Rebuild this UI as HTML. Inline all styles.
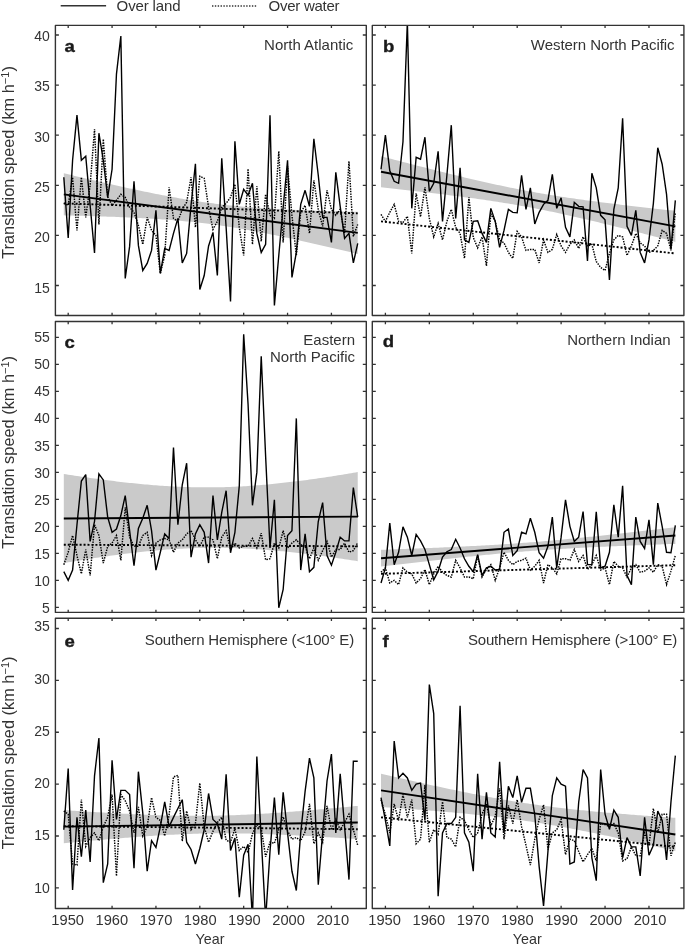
<!DOCTYPE html>
<html><head><meta charset="utf-8"><style>
html,body{margin:0;padding:0;background:#fff;}
body{width:685px;height:945px;position:relative;overflow:hidden;font-family:"Liberation Sans", sans-serif;}
</style></head><body>
<svg width="685" height="945" viewBox="0 0 685 945" style="position:absolute;left:0;top:0;will-change:transform">
<defs>
<clipPath id="clipa"><rect x="55.40" y="25.40" width="310.90" height="290.10"/></clipPath>
<clipPath id="clipb"><rect x="372.30" y="25.40" width="311.60" height="290.10"/></clipPath>
<clipPath id="clipc"><rect x="55.40" y="321.50" width="310.90" height="290.90"/></clipPath>
<clipPath id="clipd"><rect x="372.30" y="321.50" width="311.60" height="290.90"/></clipPath>
<clipPath id="clipe"><rect x="55.40" y="618.30" width="310.90" height="290.20"/></clipPath>
<clipPath id="clipf"><rect x="372.30" y="618.30" width="311.60" height="290.20"/></clipPath>
</defs>
<g clip-path="url(#clipa)">
<path fill="#cacaca" d="M63.81,173.28 L66.01,173.80 L68.20,174.32 L70.39,174.84 L72.59,175.36 L74.78,175.88 L76.97,176.40 L79.17,176.92 L81.36,177.43 L83.55,177.95 L85.75,178.46 L87.94,178.97 L90.14,179.48 L92.33,179.99 L94.52,180.50 L96.72,181.01 L98.91,181.51 L101.10,182.02 L103.30,182.52 L105.49,183.02 L107.68,183.52 L109.88,184.02 L112.07,184.51 L114.26,185.00 L116.46,185.50 L118.65,185.99 L120.84,186.47 L123.04,186.96 L125.23,187.44 L127.42,187.92 L129.62,188.40 L131.81,188.87 L134.00,189.34 L136.20,189.81 L138.39,190.28 L140.59,190.74 L142.78,191.20 L144.97,191.66 L147.17,192.11 L149.36,192.56 L151.55,193.00 L153.75,193.44 L155.94,193.88 L158.13,194.32 L160.33,194.74 L162.52,195.17 L164.71,195.59 L166.91,196.00 L169.10,196.42 L171.29,196.82 L173.49,197.22 L175.68,197.61 L177.88,198.00 L180.07,198.39 L182.26,198.76 L184.46,199.14 L186.65,199.50 L188.84,199.86 L191.04,200.21 L193.23,200.56 L195.42,200.90 L197.62,201.23 L199.81,201.56 L202.00,201.88 L204.20,202.19 L206.39,202.50 L208.58,202.79 L210.78,203.09 L212.97,203.37 L215.16,203.65 L217.36,203.92 L219.55,204.18 L221.75,204.44 L223.94,204.69 L226.13,204.93 L228.33,205.17 L230.52,205.40 L232.71,205.62 L234.91,205.84 L237.10,206.05 L239.29,206.25 L241.49,206.45 L243.68,206.64 L245.87,206.83 L248.07,207.01 L250.26,207.18 L252.45,207.35 L254.65,207.52 L256.84,207.68 L259.03,207.84 L261.23,207.99 L263.42,208.13 L265.62,208.28 L267.81,208.41 L270.00,208.55 L272.20,208.68 L274.39,208.81 L276.58,208.93 L278.78,209.05 L280.97,209.16 L283.16,209.28 L285.36,209.39 L287.55,209.49 L289.74,209.60 L291.94,209.70 L294.13,209.80 L296.32,209.89 L298.52,209.99 L300.71,210.08 L302.90,210.17 L305.10,210.25 L307.29,210.34 L309.48,210.42 L311.68,210.50 L313.87,210.58 L316.07,210.66 L318.26,210.73 L320.45,210.81 L322.65,210.88 L324.84,210.95 L327.03,211.02 L329.23,211.09 L331.42,211.15 L333.61,211.22 L335.81,211.28 L338.00,211.34 L340.19,211.40 L342.39,211.46 L344.58,211.52 L346.77,211.58 L348.97,211.64 L351.16,211.69 L353.35,211.75 L355.55,211.80 L357.74,211.85 L357.74,253.94 L355.55,253.41 L353.35,252.89 L351.16,252.37 L348.97,251.85 L346.77,251.33 L344.58,250.81 L342.39,250.30 L340.19,249.78 L338.00,249.27 L335.81,248.75 L333.61,248.24 L331.42,247.73 L329.23,247.22 L327.03,246.71 L324.84,246.20 L322.65,245.70 L320.45,245.19 L318.26,244.69 L316.07,244.19 L313.87,243.69 L311.68,243.20 L309.48,242.70 L307.29,242.21 L305.10,241.72 L302.90,241.23 L300.71,240.74 L298.52,240.26 L296.32,239.77 L294.13,239.29 L291.94,238.82 L289.74,238.34 L287.55,237.87 L285.36,237.40 L283.16,236.94 L280.97,236.47 L278.78,236.01 L276.58,235.56 L274.39,235.10 L272.20,234.66 L270.00,234.21 L267.81,233.77 L265.62,233.33 L263.42,232.90 L261.23,232.47 L259.03,232.04 L256.84,231.62 L254.65,231.21 L252.45,230.80 L250.26,230.39 L248.07,229.99 L245.87,229.60 L243.68,229.21 L241.49,228.83 L239.29,228.45 L237.10,228.08 L234.91,227.71 L232.71,227.35 L230.52,227.00 L228.33,226.65 L226.13,226.31 L223.94,225.98 L221.75,225.65 L219.55,225.34 L217.36,225.02 L215.16,224.72 L212.97,224.42 L210.78,224.13 L208.58,223.84 L206.39,223.57 L204.20,223.30 L202.00,223.03 L199.81,222.78 L197.62,222.53 L195.42,222.28 L193.23,222.05 L191.04,221.82 L188.84,221.59 L186.65,221.38 L184.46,221.17 L182.26,220.96 L180.07,220.76 L177.88,220.57 L175.68,220.39 L173.49,220.20 L171.29,220.03 L169.10,219.86 L166.91,219.69 L164.71,219.53 L162.52,219.38 L160.33,219.23 L158.13,219.08 L155.94,218.94 L153.75,218.80 L151.55,218.66 L149.36,218.53 L147.17,218.41 L144.97,218.28 L142.78,218.16 L140.59,218.05 L138.39,217.94 L136.20,217.83 L134.00,217.72 L131.81,217.61 L129.62,217.51 L127.42,217.42 L125.23,217.32 L123.04,217.23 L120.84,217.13 L118.65,217.05 L116.46,216.96 L114.26,216.87 L112.07,216.79 L109.88,216.71 L107.68,216.63 L105.49,216.55 L103.30,216.48 L101.10,216.41 L98.91,216.33 L96.72,216.26 L94.52,216.19 L92.33,216.13 L90.14,216.06 L87.94,216.00 L85.75,215.93 L83.55,215.87 L81.36,215.81 L79.17,215.75 L76.97,215.69 L74.78,215.63 L72.59,215.58 L70.39,215.52 L68.20,215.47 L66.01,215.41 L63.81,215.36 Z"/>
<polyline fill="none" stroke="#000" stroke-width="1.45" stroke-dasharray="1.45 1.15" points="63.81,203.34 68.20,205.34 72.59,177.28 76.97,230.39 81.36,177.28 85.75,217.36 90.14,185.30 94.52,129.19 98.91,224.38 103.30,139.21 107.68,196.82 112.07,205.34 116.46,200.33 120.84,194.32 125.23,197.32 129.62,207.34 134.00,212.35 138.39,225.38 142.78,244.42 147.17,217.36 151.55,230.39 155.94,235.40 160.33,273.48 164.71,255.44 169.10,187.30 173.49,218.37 177.88,221.37 182.26,209.35 186.65,202.33 191.04,177.28 195.42,227.38 199.81,176.28 204.20,178.29 208.58,207.34 212.97,229.39 217.36,221.37 221.75,207.34 226.13,203.34 230.52,197.32 234.91,184.30 239.29,227.38 243.68,255.44 248.07,168.77 252.45,244.42 256.84,186.30 261.23,241.41 265.62,194.32 270.00,215.36 274.39,218.37 278.78,151.23 283.16,242.41 287.55,166.26 291.94,215.36 296.32,255.44 300.71,212.35 305.10,205.34 309.48,233.40 313.87,180.29 318.26,209.35 322.65,226.38 327.03,190.31 331.42,209.35 335.81,215.36 340.19,209.35 344.58,233.40 348.97,161.25 353.35,236.40 357.74,224.38"/>
<polyline fill="none" stroke="#000" stroke-width="1.4" stroke-linejoin="miter" stroke-miterlimit="3" points="63.81,177.28 68.20,237.91 72.59,160.25 76.97,115.16 81.36,160.25 85.75,156.24 90.14,205.34 94.52,252.94 98.91,133.20 103.30,160.25 107.68,197.32 112.07,169.27 116.46,74.08 120.84,36.00 125.23,278.49 129.62,246.42 134.00,181.29 138.39,245.42 142.78,270.47 147.17,263.46 151.55,250.43 155.94,210.35 160.33,273.48 164.71,248.43 169.10,250.43 173.49,233.40 177.88,218.37 182.26,262.95 186.65,253.44 191.04,205.34 195.42,163.76 199.81,289.51 204.20,275.48 208.58,245.92 212.97,232.39 217.36,275.48 221.75,158.25 226.13,227.38 230.52,301.53 234.91,141.21 239.29,204.34 243.68,189.31 248.07,195.32 252.45,183.30 256.84,233.40 261.23,252.43 265.62,244.42 270.00,115.16 274.39,305.54 278.78,255.44 283.16,207.34 287.55,160.25 291.94,277.48 296.32,252.43 300.71,204.34 305.10,190.31 309.48,206.34 313.87,138.71 318.26,175.28 322.65,217.36 327.03,217.36 331.42,242.41 335.81,172.27 340.19,206.34 344.58,238.41 348.97,233.40 353.35,262.95 357.74,243.42"/>
<line x1="63.81" y1="203.34" x2="357.74" y2="213.36" stroke="#000" stroke-width="1.9" stroke-dasharray="2.0 1.95"/>
<line x1="63.81" y1="194.32" x2="357.74" y2="232.89" stroke="#000" stroke-width="1.9"/>
</g>
<rect x="55.40" y="25.40" width="310.90" height="290.10" fill="none" stroke="#333" stroke-width="1.4" stroke-linejoin="round"/>
<path d="M55.40,285.50h3.5M366.30,285.50h-3.5M55.40,235.40h3.5M366.30,235.40h-3.5M55.40,185.30h3.5M366.30,185.30h-3.5M55.40,135.20h3.5M366.30,135.20h-3.5M55.40,85.10h3.5M366.30,85.10h-3.5M55.40,35.00h3.5M366.30,35.00h-3.5M68.20,25.40v2.7M68.20,315.50v-2.7M112.07,25.40v2.7M112.07,315.50v-2.7M155.94,25.40v2.7M155.94,315.50v-2.7M199.81,25.40v2.7M199.81,315.50v-2.7M243.68,25.40v2.7M243.68,315.50v-2.7M287.55,25.40v2.7M287.55,315.50v-2.7M331.42,25.40v2.7M331.42,315.50v-2.7" stroke="#333" stroke-width="1.3" fill="none"/>
<text transform="translate(64.60,52.00) scale(1.08,1)" font-family='"Liberation Sans", sans-serif' font-weight="bold" font-size="17.2" fill="#1a1a1a" stroke="#1a1a1a" stroke-width="0.35">a</text>
<text x="353.30" y="49.90" text-anchor="end" font-family='"Liberation Sans", sans-serif' font-size="15" fill="#333">North Atlantic</text>
<g clip-path="url(#clipb)">
<path fill="#cacaca" d="M381.01,156.24 L383.20,156.82 L385.40,157.40 L387.60,157.97 L389.79,158.55 L391.99,159.12 L394.19,159.69 L396.38,160.27 L398.58,160.84 L400.78,161.41 L402.97,161.98 L405.17,162.55 L407.36,163.12 L409.56,163.68 L411.76,164.25 L413.95,164.82 L416.15,165.38 L418.35,165.94 L420.54,166.50 L422.74,167.06 L424.94,167.62 L427.13,168.18 L429.33,168.74 L431.53,169.29 L433.72,169.84 L435.92,170.39 L438.12,170.94 L440.31,171.49 L442.51,172.04 L444.71,172.58 L446.90,173.13 L449.10,173.67 L451.29,174.21 L453.49,174.74 L455.69,175.28 L457.88,175.81 L460.08,176.34 L462.28,176.86 L464.47,177.39 L466.67,177.91 L468.87,178.43 L471.06,178.95 L473.26,179.46 L475.46,179.97 L477.65,180.48 L479.85,180.98 L482.05,181.48 L484.24,181.98 L486.44,182.48 L488.64,182.97 L490.83,183.45 L493.03,183.93 L495.22,184.41 L497.42,184.89 L499.62,185.36 L501.81,185.82 L504.01,186.29 L506.21,186.74 L508.40,187.20 L510.60,187.65 L512.80,188.09 L514.99,188.53 L517.19,188.96 L519.39,189.39 L521.58,189.82 L523.78,190.24 L525.98,190.65 L528.17,191.06 L530.37,191.47 L532.57,191.87 L534.76,192.26 L536.96,192.65 L539.15,193.04 L541.35,193.42 L543.55,193.79 L545.74,194.17 L547.94,194.53 L550.14,194.89 L552.33,195.25 L554.53,195.61 L556.73,195.95 L558.92,196.30 L561.12,196.64 L563.32,196.98 L565.51,197.31 L567.71,197.64 L569.91,197.96 L572.10,198.28 L574.30,198.60 L576.50,198.91 L578.69,199.23 L580.89,199.53 L583.09,199.84 L585.28,200.14 L587.48,200.44 L589.67,200.73 L591.87,201.03 L594.07,201.32 L596.26,201.60 L598.46,201.89 L600.66,202.17 L602.85,202.45 L605.05,202.73 L607.25,203.01 L609.44,203.28 L611.64,203.56 L613.84,203.83 L616.03,204.09 L618.23,204.36 L620.43,204.63 L622.62,204.89 L624.82,205.15 L627.01,205.41 L629.21,205.67 L631.41,205.93 L633.60,206.19 L635.80,206.44 L638.00,206.69 L640.19,206.95 L642.39,207.20 L644.59,207.45 L646.78,207.70 L648.98,207.95 L651.18,208.19 L653.37,208.44 L655.57,208.68 L657.77,208.93 L659.96,209.17 L662.16,209.41 L664.36,209.65 L666.55,209.90 L668.75,210.14 L670.94,210.37 L673.14,210.61 L675.34,210.85 L675.34,241.91 L673.14,241.34 L670.94,240.76 L668.75,240.18 L666.55,239.61 L664.36,239.03 L662.16,238.46 L659.96,237.89 L657.77,237.32 L655.57,236.75 L653.37,236.18 L651.18,235.61 L648.98,235.04 L646.78,234.47 L644.59,233.90 L642.39,233.34 L640.19,232.78 L638.00,232.21 L635.80,231.65 L633.60,231.09 L631.41,230.53 L629.21,229.98 L627.01,229.42 L624.82,228.87 L622.62,228.31 L620.43,227.76 L618.23,227.21 L616.03,226.66 L613.84,226.12 L611.64,225.57 L609.44,225.03 L607.25,224.49 L605.05,223.95 L602.85,223.41 L600.66,222.88 L598.46,222.35 L596.26,221.82 L594.07,221.29 L591.87,220.77 L589.67,220.24 L587.48,219.72 L585.28,219.21 L583.09,218.69 L580.89,218.18 L578.69,217.68 L576.50,217.17 L574.30,216.67 L572.10,216.17 L569.91,215.68 L567.71,215.19 L565.51,214.70 L563.32,214.22 L561.12,213.74 L558.92,213.27 L556.73,212.80 L554.53,212.33 L552.33,211.87 L550.14,211.41 L547.94,210.96 L545.74,210.51 L543.55,210.07 L541.35,209.63 L539.15,209.19 L536.96,208.76 L534.76,208.34 L532.57,207.92 L530.37,207.50 L528.17,207.09 L525.98,206.69 L523.78,206.29 L521.58,205.89 L519.39,205.50 L517.19,205.12 L514.99,204.74 L512.80,204.36 L510.60,203.99 L508.40,203.62 L506.21,203.26 L504.01,202.90 L501.81,202.55 L499.62,202.20 L497.42,201.86 L495.22,201.52 L493.03,201.18 L490.83,200.85 L488.64,200.52 L486.44,200.19 L484.24,199.87 L482.05,199.55 L479.85,199.24 L477.65,198.93 L475.46,198.62 L473.26,198.32 L471.06,198.02 L468.87,197.72 L466.67,197.42 L464.47,197.13 L462.28,196.84 L460.08,196.55 L457.88,196.27 L455.69,195.98 L453.49,195.70 L451.29,195.42 L449.10,195.15 L446.90,194.87 L444.71,194.60 L442.51,194.33 L440.31,194.06 L438.12,193.79 L435.92,193.53 L433.72,193.26 L431.53,193.00 L429.33,192.74 L427.13,192.48 L424.94,192.23 L422.74,191.97 L420.54,191.71 L418.35,191.46 L416.15,191.21 L413.95,190.96 L411.76,190.71 L409.56,190.46 L407.36,190.21 L405.17,189.96 L402.97,189.72 L400.78,189.47 L398.58,189.23 L396.38,188.98 L394.19,188.74 L391.99,188.50 L389.79,188.26 L387.60,188.02 L385.40,187.78 L383.20,187.54 L381.01,187.30 Z"/>
<polyline fill="none" stroke="#000" stroke-width="1.45" stroke-dasharray="1.45 1.15" points="381.01,214.36 385.40,221.37 389.79,212.35 394.19,204.34 398.58,221.37 402.97,222.37 407.36,216.36 411.76,253.44 416.15,193.32 420.54,216.86 424.94,187.30 429.33,218.37 433.72,236.90 438.12,223.38 442.51,239.91 446.90,221.37 451.29,209.35 455.69,227.38 460.08,233.40 464.47,258.45 468.87,197.32 473.26,237.40 477.65,247.92 482.05,236.90 486.44,265.96 490.83,213.86 495.22,221.37 499.62,239.91 504.01,242.91 508.40,252.43 512.80,258.45 517.19,231.39 521.58,236.90 525.98,250.43 530.37,249.43 534.76,249.43 539.15,262.95 543.55,239.91 547.94,252.43 552.33,249.43 556.73,234.40 561.12,245.92 565.51,252.43 569.91,244.42 574.30,239.91 578.69,248.43 583.09,236.90 587.48,245.92 591.87,244.42 596.26,261.45 600.66,267.46 605.05,270.47 609.44,253.44 613.84,239.91 618.23,235.40 622.62,236.90 627.01,255.44 631.41,245.92 635.80,233.40 640.19,242.91 644.59,245.92 648.98,252.43 653.37,250.43 657.77,245.92 662.16,230.39 666.55,233.40 670.94,250.43 675.34,212.35"/>
<polyline fill="none" stroke="#000" stroke-width="1.4" stroke-linejoin="miter" stroke-miterlimit="3" points="381.01,169.27 385.40,135.20 389.79,170.77 394.19,181.29 398.58,183.30 402.97,141.71 407.36,21.97 411.76,208.35 416.15,157.24 420.54,159.25 424.94,137.20 429.33,191.31 433.72,183.30 438.12,151.23 442.51,221.37 446.90,175.28 451.29,125.18 455.69,218.37 460.08,167.76 464.47,239.91 468.87,242.41 473.26,221.37 477.65,220.87 482.05,233.40 486.44,242.41 490.83,208.35 495.22,221.37 499.62,247.42 504.01,230.39 508.40,209.35 512.80,212.35 517.19,212.85 521.58,175.28 525.98,209.35 530.37,187.81 534.76,223.88 539.15,212.35 543.55,204.34 547.94,200.33 552.33,174.28 556.73,208.35 561.12,197.82 565.51,227.38 569.91,236.90 574.30,202.33 578.69,206.34 583.09,206.84 587.48,260.95 591.87,173.28 596.26,187.81 600.66,215.36 605.05,219.87 609.44,279.99 613.84,209.35 618.23,187.81 622.62,118.17 627.01,226.38 631.41,235.40 635.80,210.35 640.19,252.43 644.59,262.95 648.98,239.91 653.37,203.34 657.77,147.72 662.16,164.26 666.55,194.32 670.94,249.43 675.34,200.33"/>
<line x1="381.01" y1="221.37" x2="675.34" y2="253.44" stroke="#000" stroke-width="1.9" stroke-dasharray="2.0 1.95"/>
<line x1="381.01" y1="171.77" x2="675.34" y2="226.38" stroke="#000" stroke-width="1.9"/>
</g>
<rect x="372.30" y="25.40" width="311.60" height="290.10" fill="none" stroke="#333" stroke-width="1.4" stroke-linejoin="round"/>
<path d="M372.30,285.50h3.5M683.90,285.50h-3.5M372.30,235.40h3.5M683.90,235.40h-3.5M372.30,185.30h3.5M683.90,185.30h-3.5M372.30,135.20h3.5M683.90,135.20h-3.5M372.30,85.10h3.5M683.90,85.10h-3.5M372.30,35.00h3.5M683.90,35.00h-3.5M385.40,25.40v2.7M385.40,315.50v-2.7M429.33,25.40v2.7M429.33,315.50v-2.7M473.26,25.40v2.7M473.26,315.50v-2.7M517.19,25.40v2.7M517.19,315.50v-2.7M561.12,25.40v2.7M561.12,315.50v-2.7M605.05,25.40v2.7M605.05,315.50v-2.7M648.98,25.40v2.7M648.98,315.50v-2.7" stroke="#333" stroke-width="1.3" fill="none"/>
<text transform="translate(383.00,51.60) scale(1.08,1)" font-family='"Liberation Sans", sans-serif' font-weight="bold" font-size="17.2" fill="#1a1a1a" stroke="#1a1a1a" stroke-width="0.35">b</text>
<text x="674.60" y="49.70" textLength="143.8" text-anchor="end" font-family='"Liberation Sans", sans-serif' font-size="15" fill="#333">Western North Pacific</text>
<g clip-path="url(#clipc)">
<path fill="#cacaca" d="M63.81,473.99 L66.01,474.34 L68.20,474.68 L70.39,475.02 L72.59,475.35 L74.78,475.68 L76.97,476.01 L79.17,476.34 L81.36,476.66 L83.55,476.99 L85.75,477.30 L87.94,477.62 L90.14,477.93 L92.33,478.24 L94.52,478.54 L96.72,478.84 L98.91,479.14 L101.10,479.44 L103.30,479.73 L105.49,480.01 L107.68,480.30 L109.88,480.58 L112.07,480.85 L114.26,481.12 L116.46,481.39 L118.65,481.65 L120.84,481.91 L123.04,482.16 L125.23,482.41 L127.42,482.65 L129.62,482.89 L131.81,483.12 L134.00,483.35 L136.20,483.58 L138.39,483.79 L140.59,484.01 L142.78,484.21 L144.97,484.42 L147.17,484.61 L149.36,484.80 L151.55,484.98 L153.75,485.16 L155.94,485.33 L158.13,485.50 L160.33,485.66 L162.52,485.81 L164.71,485.96 L166.91,486.10 L169.10,486.23 L171.29,486.35 L173.49,486.47 L175.68,486.58 L177.88,486.69 L180.07,486.79 L182.26,486.88 L184.46,486.96 L186.65,487.03 L188.84,487.10 L191.04,487.16 L193.23,487.21 L195.42,487.26 L197.62,487.29 L199.81,487.32 L202.00,487.35 L204.20,487.36 L206.39,487.36 L208.58,487.36 L210.78,487.35 L212.97,487.33 L215.16,487.31 L217.36,487.27 L219.55,487.23 L221.75,487.18 L223.94,487.13 L226.13,487.06 L228.33,486.99 L230.52,486.91 L232.71,486.82 L234.91,486.72 L237.10,486.62 L239.29,486.51 L241.49,486.39 L243.68,486.27 L245.87,486.13 L248.07,485.99 L250.26,485.85 L252.45,485.69 L254.65,485.53 L256.84,485.37 L259.03,485.19 L261.23,485.01 L263.42,484.82 L265.62,484.63 L267.81,484.43 L270.00,484.22 L272.20,484.01 L274.39,483.79 L276.58,483.57 L278.78,483.34 L280.97,483.10 L283.16,482.86 L285.36,482.62 L287.55,482.37 L289.74,482.11 L291.94,481.85 L294.13,481.58 L296.32,481.31 L298.52,481.03 L300.71,480.75 L302.90,480.47 L305.10,480.17 L307.29,479.88 L309.48,479.58 L311.68,479.28 L313.87,478.97 L316.07,478.66 L318.26,478.35 L320.45,478.03 L322.65,477.70 L324.84,477.38 L327.03,477.05 L329.23,476.72 L331.42,476.38 L333.61,476.04 L335.81,475.70 L338.00,475.35 L340.19,475.00 L342.39,474.65 L344.58,474.29 L346.77,473.94 L348.97,473.57 L351.16,473.21 L353.35,472.85 L355.55,472.48 L357.74,472.11 L357.74,561.16 L355.55,560.81 L353.35,560.47 L351.16,560.13 L348.97,559.80 L346.77,559.47 L344.58,559.14 L342.39,558.81 L340.19,558.49 L338.00,558.16 L335.81,557.85 L333.61,557.53 L331.42,557.22 L329.23,556.91 L327.03,556.61 L324.84,556.31 L322.65,556.01 L320.45,555.71 L318.26,555.42 L316.07,555.14 L313.87,554.85 L311.68,554.57 L309.48,554.30 L307.29,554.03 L305.10,553.76 L302.90,553.50 L300.71,553.24 L298.52,552.99 L296.32,552.74 L294.13,552.50 L291.94,552.26 L289.74,552.03 L287.55,551.80 L285.36,551.57 L283.16,551.36 L280.97,551.14 L278.78,550.94 L276.58,550.73 L274.39,550.54 L272.20,550.35 L270.00,550.16 L267.81,549.99 L265.62,549.82 L263.42,549.65 L261.23,549.49 L259.03,549.34 L256.84,549.19 L254.65,549.05 L252.45,548.92 L250.26,548.79 L248.07,548.68 L245.87,548.56 L243.68,548.46 L241.49,548.36 L239.29,548.27 L237.10,548.19 L234.91,548.12 L232.71,548.05 L230.52,547.99 L228.33,547.94 L226.13,547.89 L223.94,547.85 L221.75,547.83 L219.55,547.80 L217.36,547.79 L215.16,547.79 L212.97,547.79 L210.78,547.80 L208.58,547.82 L206.39,547.84 L204.20,547.88 L202.00,547.92 L199.81,547.97 L197.62,548.02 L195.42,548.09 L193.23,548.16 L191.04,548.24 L188.84,548.33 L186.65,548.43 L184.46,548.53 L182.26,548.64 L180.07,548.76 L177.88,548.88 L175.68,549.02 L173.49,549.16 L171.29,549.30 L169.10,549.46 L166.91,549.62 L164.71,549.78 L162.52,549.96 L160.33,550.14 L158.13,550.33 L155.94,550.52 L153.75,550.72 L151.55,550.93 L149.36,551.14 L147.17,551.36 L144.97,551.58 L142.78,551.81 L140.59,552.05 L138.39,552.29 L136.20,552.53 L134.00,552.78 L131.81,553.04 L129.62,553.30 L127.42,553.57 L125.23,553.84 L123.04,554.12 L120.84,554.40 L118.65,554.68 L116.46,554.97 L114.26,555.27 L112.07,555.57 L109.88,555.87 L107.68,556.18 L105.49,556.49 L103.30,556.80 L101.10,557.12 L98.91,557.45 L96.72,557.77 L94.52,558.10 L92.33,558.43 L90.14,558.77 L87.94,559.11 L85.75,559.45 L83.55,559.80 L81.36,560.15 L79.17,560.50 L76.97,560.86 L74.78,561.21 L72.59,561.58 L70.39,561.94 L68.20,562.30 L66.01,562.67 L63.81,563.04 Z"/>
<polyline fill="none" stroke="#000" stroke-width="1.45" stroke-dasharray="1.45 1.15" points="63.81,564.66 68.20,552.25 72.59,535.52 76.97,555.49 81.36,573.84 85.75,549.55 90.14,575.46 94.52,524.73 98.91,535.52 103.30,563.04 107.68,546.31 112.07,543.08 116.46,535.52 120.84,560.35 125.23,507.46 129.62,537.14 134.00,546.31 138.39,546.31 142.78,535.52 147.17,532.28 151.55,555.49 155.94,543.08 160.33,539.84 164.71,538.49 169.10,539.84 173.49,552.25 177.88,543.08 182.26,539.84 186.65,533.90 191.04,530.66 195.42,539.84 199.81,546.31 204.20,537.14 208.58,537.14 212.97,539.84 217.36,558.73 221.75,537.14 226.13,530.66 230.52,549.55 234.91,543.08 239.29,547.93 243.68,546.31 248.07,546.31 252.45,538.49 256.84,547.93 261.23,533.09 265.62,559.81 270.00,558.73 274.39,543.08 278.78,547.93 283.16,530.66 287.55,547.93 291.94,543.08 296.32,539.84 300.71,544.69 305.10,546.31 309.48,558.73 313.87,547.93 318.26,560.35 322.65,550.63 327.03,541.46 331.42,557.11 335.81,549.55 340.19,549.55 344.58,543.08 348.97,552.25 353.35,550.63 357.74,542.54"/>
<polyline fill="none" stroke="#000" stroke-width="1.4" stroke-linejoin="miter" stroke-miterlimit="3" points="63.81,571.68 68.20,580.32 72.59,570.06 76.97,524.73 81.36,481.01 85.75,474.53 90.14,541.46 94.52,521.49 98.91,473.99 103.30,479.93 107.68,517.17 112.07,532.28 116.46,529.04 120.84,515.55 125.23,495.58 129.62,530.66 134.00,565.74 138.39,528.50 142.78,518.25 147.17,505.30 151.55,530.66 155.94,570.06 160.33,552.25 164.71,533.90 169.10,538.49 173.49,447.55 177.88,524.73 182.26,484.79 186.65,463.20 191.04,557.11 195.42,533.90 199.81,524.73 204.20,532.28 208.58,563.04 212.97,495.58 217.36,539.84 221.75,512.31 226.13,490.72 230.52,552.79 234.91,532.28 239.29,485.87 243.68,334.21 248.07,404.37 252.45,505.30 256.84,472.38 261.23,356.34 265.62,456.18 270.00,547.93 274.39,499.90 278.78,607.84 283.16,589.49 287.55,535.52 291.94,530.66 296.32,418.40 300.71,570.06 305.10,533.90 309.48,571.68 313.87,567.36 318.26,521.49 322.65,502.60 327.03,555.49 331.42,565.20 335.81,552.25 340.19,537.14 344.58,540.92 348.97,540.92 353.35,487.49 357.74,517.17"/>
<line x1="63.81" y1="544.69" x2="357.74" y2="546.31" stroke="#000" stroke-width="1.9" stroke-dasharray="2.0 1.95"/>
<line x1="63.81" y1="518.52" x2="357.74" y2="516.63" stroke="#000" stroke-width="1.9"/>
</g>
<rect x="55.40" y="321.50" width="310.90" height="290.90" fill="none" stroke="#333" stroke-width="1.4" stroke-linejoin="round"/>
<path d="M55.40,607.30h3.5M366.30,607.30h-3.5M55.40,580.32h3.5M366.30,580.32h-3.5M55.40,553.33h3.5M366.30,553.33h-3.5M55.40,526.35h3.5M366.30,526.35h-3.5M55.40,499.36h3.5M366.30,499.36h-3.5M55.40,472.38h3.5M366.30,472.38h-3.5M55.40,445.39h3.5M366.30,445.39h-3.5M55.40,418.40h3.5M366.30,418.40h-3.5M55.40,391.42h3.5M366.30,391.42h-3.5M55.40,364.44h3.5M366.30,364.44h-3.5M55.40,337.45h3.5M366.30,337.45h-3.5M68.20,321.50v2.7M68.20,612.40v-2.7M112.07,321.50v2.7M112.07,612.40v-2.7M155.94,321.50v2.7M155.94,612.40v-2.7M199.81,321.50v2.7M199.81,612.40v-2.7M243.68,321.50v2.7M243.68,612.40v-2.7M287.55,321.50v2.7M287.55,612.40v-2.7M331.42,321.50v2.7M331.42,612.40v-2.7" stroke="#333" stroke-width="1.3" fill="none"/>
<text transform="translate(64.60,347.90) scale(1.08,1)" font-family='"Liberation Sans", sans-serif' font-weight="bold" font-size="17.2" fill="#1a1a1a" stroke="#1a1a1a" stroke-width="0.35">c</text>
<text x="355.00" y="344.80" text-anchor="end" font-family='"Liberation Sans", sans-serif' font-size="15" fill="#333">Eastern</text>
<text x="355.00" y="362.30" text-anchor="end" font-family='"Liberation Sans", sans-serif' font-size="15" fill="#333">North Pacific</text>
<g clip-path="url(#clipd)">
<path fill="#cacaca" d="M381.01,549.82 L383.20,549.74 L385.40,549.67 L387.60,549.59 L389.79,549.51 L391.99,549.43 L394.19,549.35 L396.38,549.27 L398.58,549.19 L400.78,549.11 L402.97,549.03 L405.17,548.94 L407.36,548.86 L409.56,548.78 L411.76,548.69 L413.95,548.61 L416.15,548.52 L418.35,548.44 L420.54,548.35 L422.74,548.27 L424.94,548.18 L427.13,548.09 L429.33,548.00 L431.53,547.91 L433.72,547.82 L435.92,547.73 L438.12,547.64 L440.31,547.54 L442.51,547.45 L444.71,547.35 L446.90,547.26 L449.10,547.16 L451.29,547.06 L453.49,546.96 L455.69,546.86 L457.88,546.76 L460.08,546.65 L462.28,546.55 L464.47,546.44 L466.67,546.34 L468.87,546.23 L471.06,546.12 L473.26,546.00 L475.46,545.89 L477.65,545.78 L479.85,545.66 L482.05,545.54 L484.24,545.42 L486.44,545.30 L488.64,545.17 L490.83,545.04 L493.03,544.92 L495.22,544.79 L497.42,544.65 L499.62,544.52 L501.81,544.38 L504.01,544.24 L506.21,544.10 L508.40,543.95 L510.60,543.81 L512.80,543.66 L514.99,543.50 L517.19,543.35 L519.39,543.19 L521.58,543.03 L523.78,542.87 L525.98,542.70 L528.17,542.54 L530.37,542.37 L532.57,542.19 L534.76,542.02 L536.96,541.84 L539.15,541.66 L541.35,541.47 L543.55,541.29 L545.74,541.10 L547.94,540.91 L550.14,540.71 L552.33,540.52 L554.53,540.32 L556.73,540.12 L558.92,539.92 L561.12,539.71 L563.32,539.50 L565.51,539.29 L567.71,539.08 L569.91,538.87 L572.10,538.65 L574.30,538.43 L576.50,538.22 L578.69,537.99 L580.89,537.77 L583.09,537.55 L585.28,537.32 L587.48,537.09 L589.67,536.86 L591.87,536.63 L594.07,536.40 L596.26,536.17 L598.46,535.93 L600.66,535.69 L602.85,535.46 L605.05,535.22 L607.25,534.98 L609.44,534.74 L611.64,534.50 L613.84,534.25 L616.03,534.01 L618.23,533.76 L620.43,533.52 L622.62,533.27 L624.82,533.02 L627.01,532.78 L629.21,532.53 L631.41,532.28 L633.60,532.03 L635.80,531.78 L638.00,531.52 L640.19,531.27 L642.39,531.02 L644.59,530.76 L646.78,530.51 L648.98,530.25 L651.18,530.00 L653.37,529.74 L655.57,529.49 L657.77,529.23 L659.96,528.97 L662.16,528.71 L664.36,528.45 L666.55,528.19 L668.75,527.94 L670.94,527.68 L673.14,527.42 L675.34,527.15 L675.34,543.89 L673.14,543.96 L670.94,544.04 L668.75,544.12 L666.55,544.20 L664.36,544.28 L662.16,544.36 L659.96,544.44 L657.77,544.52 L655.57,544.60 L653.37,544.68 L651.18,544.76 L648.98,544.85 L646.78,544.93 L644.59,545.01 L642.39,545.10 L640.19,545.18 L638.00,545.27 L635.80,545.35 L633.60,545.44 L631.41,545.53 L629.21,545.62 L627.01,545.71 L624.82,545.80 L622.62,545.89 L620.43,545.98 L618.23,546.07 L616.03,546.17 L613.84,546.26 L611.64,546.35 L609.44,546.45 L607.25,546.55 L605.05,546.65 L602.85,546.75 L600.66,546.85 L598.46,546.95 L596.26,547.05 L594.07,547.16 L591.87,547.26 L589.67,547.37 L587.48,547.48 L585.28,547.59 L583.09,547.70 L580.89,547.82 L578.69,547.93 L576.50,548.05 L574.30,548.17 L572.10,548.29 L569.91,548.41 L567.71,548.54 L565.51,548.66 L563.32,548.79 L561.12,548.92 L558.92,549.06 L556.73,549.19 L554.53,549.33 L552.33,549.47 L550.14,549.61 L547.94,549.75 L545.74,549.90 L543.55,550.05 L541.35,550.20 L539.15,550.36 L536.96,550.52 L534.76,550.68 L532.57,550.84 L530.37,551.00 L528.17,551.17 L525.98,551.34 L523.78,551.51 L521.58,551.69 L519.39,551.87 L517.19,552.05 L514.99,552.23 L512.80,552.42 L510.60,552.61 L508.40,552.80 L506.21,552.99 L504.01,553.19 L501.81,553.39 L499.62,553.59 L497.42,553.79 L495.22,554.00 L493.03,554.20 L490.83,554.41 L488.64,554.63 L486.44,554.84 L484.24,555.06 L482.05,555.27 L479.85,555.49 L477.65,555.71 L475.46,555.94 L473.26,556.16 L471.06,556.39 L468.87,556.62 L466.67,556.84 L464.47,557.08 L462.28,557.31 L460.08,557.54 L457.88,557.78 L455.69,558.01 L453.49,558.25 L451.29,558.49 L449.10,558.73 L446.90,558.97 L444.71,559.21 L442.51,559.45 L440.31,559.70 L438.12,559.94 L435.92,560.19 L433.72,560.44 L431.53,560.68 L429.33,560.93 L427.13,561.18 L424.94,561.43 L422.74,561.68 L420.54,561.93 L418.35,562.18 L416.15,562.44 L413.95,562.69 L411.76,562.94 L409.56,563.20 L407.36,563.45 L405.17,563.71 L402.97,563.97 L400.78,564.22 L398.58,564.48 L396.38,564.74 L394.19,565.00 L391.99,565.25 L389.79,565.51 L387.60,565.77 L385.40,566.03 L383.20,566.29 L381.01,566.55 Z"/>
<polyline fill="none" stroke="#000" stroke-width="1.45" stroke-dasharray="1.45 1.15" points="381.01,572.22 385.40,567.90 389.79,583.01 394.19,580.32 398.58,584.63 402.97,567.90 407.36,572.22 411.76,573.84 416.15,583.01 420.54,578.70 424.94,569.52 429.33,584.63 433.72,573.84 438.12,566.28 442.51,572.22 446.90,575.46 451.29,577.08 455.69,560.35 460.08,567.90 464.47,577.08 468.87,577.08 473.26,578.70 477.65,555.49 482.05,577.08 486.44,569.52 490.83,564.66 495.22,580.32 499.62,567.90 504.01,552.25 508.40,560.35 512.80,564.66 517.19,561.43 521.58,560.35 525.98,558.19 530.37,570.06 534.76,566.28 539.15,560.35 543.55,583.01 547.94,564.66 552.33,567.90 556.73,573.84 561.12,558.73 565.51,558.73 569.91,560.35 574.30,549.55 578.69,561.43 583.09,555.49 587.48,569.52 591.87,564.66 596.26,555.49 600.66,570.06 605.05,567.90 609.44,584.63 613.84,561.43 618.23,566.28 622.62,567.90 627.01,577.08 631.41,567.90 635.80,564.66 640.19,572.22 644.59,571.14 648.98,567.90 653.37,572.22 657.77,564.66 662.16,566.28 666.55,584.63 670.94,571.14 675.34,555.49"/>
<polyline fill="none" stroke="#000" stroke-width="1.4" stroke-linejoin="miter" stroke-miterlimit="3" points="381.01,583.01 385.40,567.90 389.79,523.11 394.19,564.66 398.58,552.25 402.97,526.88 407.36,537.14 411.76,555.49 416.15,534.44 420.54,540.92 424.94,549.55 429.33,564.66 433.72,579.78 438.12,571.14 442.51,557.11 446.90,551.71 451.29,549.55 455.69,539.30 460.08,547.93 464.47,558.73 468.87,566.28 473.26,571.68 477.65,554.68 482.05,575.46 486.44,567.90 490.83,566.28 495.22,570.06 499.62,569.52 504.01,532.28 508.40,529.04 512.80,555.49 517.19,550.63 521.58,532.28 525.98,533.90 530.37,518.25 534.76,532.28 539.15,552.79 543.55,558.19 547.94,546.31 552.33,517.17 556.73,567.90 561.12,537.14 565.51,499.90 569.91,526.35 574.30,541.46 578.69,537.14 583.09,511.50 587.48,564.66 591.87,564.66 596.26,511.77 600.66,567.90 605.05,566.28 609.44,552.25 613.84,504.76 618.23,537.14 622.62,485.87 627.01,575.46 631.41,584.63 635.80,517.17 640.19,541.46 644.59,548.47 648.98,519.87 653.37,564.66 657.77,503.14 662.16,526.35 666.55,552.25 670.94,552.79 675.34,525.27"/>
<line x1="381.01" y1="573.84" x2="675.34" y2="565.20" stroke="#000" stroke-width="1.9" stroke-dasharray="2.0 1.95"/>
<line x1="381.01" y1="558.19" x2="675.34" y2="535.52" stroke="#000" stroke-width="1.9"/>
</g>
<rect x="372.30" y="321.50" width="311.60" height="290.90" fill="none" stroke="#333" stroke-width="1.4" stroke-linejoin="round"/>
<path d="M372.30,607.30h3.5M683.90,607.30h-3.5M372.30,580.32h3.5M683.90,580.32h-3.5M372.30,553.33h3.5M683.90,553.33h-3.5M372.30,526.35h3.5M683.90,526.35h-3.5M372.30,499.36h3.5M683.90,499.36h-3.5M372.30,472.38h3.5M683.90,472.38h-3.5M372.30,445.39h3.5M683.90,445.39h-3.5M372.30,418.40h3.5M683.90,418.40h-3.5M372.30,391.42h3.5M683.90,391.42h-3.5M372.30,364.44h3.5M683.90,364.44h-3.5M372.30,337.45h3.5M683.90,337.45h-3.5M385.40,321.50v2.7M385.40,612.40v-2.7M429.33,321.50v2.7M429.33,612.40v-2.7M473.26,321.50v2.7M473.26,612.40v-2.7M517.19,321.50v2.7M517.19,612.40v-2.7M561.12,321.50v2.7M561.12,612.40v-2.7M605.05,321.50v2.7M605.05,612.40v-2.7M648.98,321.50v2.7M648.98,612.40v-2.7" stroke="#333" stroke-width="1.3" fill="none"/>
<text transform="translate(382.70,347.30) scale(1.08,1)" font-family='"Liberation Sans", sans-serif' font-weight="bold" font-size="17.2" fill="#1a1a1a" stroke="#1a1a1a" stroke-width="0.35">d</text>
<text x="670.60" y="344.50" text-anchor="end" font-family='"Liberation Sans", sans-serif' font-size="15" fill="#333">Northern Indian</text>
<g clip-path="url(#clipe)">
<path fill="#cacaca" d="M63.81,810.06 L66.01,810.21 L68.20,810.35 L70.39,810.50 L72.59,810.64 L74.78,810.79 L76.97,810.93 L79.17,811.07 L81.36,811.21 L83.55,811.35 L85.75,811.49 L87.94,811.63 L90.14,811.76 L92.33,811.90 L94.52,812.03 L96.72,812.17 L98.91,812.30 L101.10,812.43 L103.30,812.56 L105.49,812.68 L107.68,812.81 L109.88,812.94 L112.07,813.06 L114.26,813.18 L116.46,813.30 L118.65,813.42 L120.84,813.54 L123.04,813.65 L125.23,813.76 L127.42,813.87 L129.62,813.98 L131.81,814.09 L134.00,814.19 L136.20,814.30 L138.39,814.40 L140.59,814.49 L142.78,814.59 L144.97,814.68 L147.17,814.77 L149.36,814.86 L151.55,814.94 L153.75,815.02 L155.94,815.10 L158.13,815.17 L160.33,815.25 L162.52,815.31 L164.71,815.38 L166.91,815.44 L169.10,815.50 L171.29,815.55 L173.49,815.60 L175.68,815.65 L177.88,815.69 L180.07,815.73 L182.26,815.76 L184.46,815.79 L186.65,815.81 L188.84,815.83 L191.04,815.85 L193.23,815.86 L195.42,815.86 L197.62,815.87 L199.81,815.86 L202.00,815.85 L204.20,815.84 L206.39,815.82 L208.58,815.80 L210.78,815.77 L212.97,815.74 L215.16,815.70 L217.36,815.65 L219.55,815.60 L221.75,815.55 L223.94,815.49 L226.13,815.43 L228.33,815.36 L230.52,815.29 L232.71,815.21 L234.91,815.13 L237.10,815.04 L239.29,814.95 L241.49,814.86 L243.68,814.76 L245.87,814.66 L248.07,814.55 L250.26,814.44 L252.45,814.32 L254.65,814.20 L256.84,814.08 L259.03,813.95 L261.23,813.82 L263.42,813.69 L265.62,813.55 L267.81,813.41 L270.00,813.27 L272.20,813.12 L274.39,812.97 L276.58,812.82 L278.78,812.67 L280.97,812.51 L283.16,812.35 L285.36,812.19 L287.55,812.03 L289.74,811.86 L291.94,811.69 L294.13,811.52 L296.32,811.35 L298.52,811.17 L300.71,811.00 L302.90,810.82 L305.10,810.64 L307.29,810.45 L309.48,810.27 L311.68,810.09 L313.87,809.90 L316.07,809.71 L318.26,809.52 L320.45,809.33 L322.65,809.14 L324.84,808.94 L327.03,808.75 L329.23,808.55 L331.42,808.36 L333.61,808.16 L335.81,807.96 L338.00,807.76 L340.19,807.56 L342.39,807.35 L344.58,807.15 L346.77,806.95 L348.97,806.74 L351.16,806.54 L353.35,806.33 L355.55,806.12 L357.74,805.91 L357.74,839.11 L355.55,838.97 L353.35,838.82 L351.16,838.68 L348.97,838.53 L346.77,838.39 L344.58,838.25 L342.39,838.10 L340.19,837.96 L338.00,837.82 L335.81,837.69 L333.61,837.55 L331.42,837.41 L329.23,837.28 L327.03,837.14 L324.84,837.01 L322.65,836.88 L320.45,836.75 L318.26,836.62 L316.07,836.49 L313.87,836.36 L311.68,836.24 L309.48,836.12 L307.29,835.99 L305.10,835.87 L302.90,835.76 L300.71,835.64 L298.52,835.53 L296.32,835.41 L294.13,835.30 L291.94,835.19 L289.74,835.09 L287.55,834.98 L285.36,834.88 L283.16,834.78 L280.97,834.68 L278.78,834.59 L276.58,834.49 L274.39,834.41 L272.20,834.32 L270.00,834.23 L267.81,834.15 L265.62,834.08 L263.42,834.00 L261.23,833.93 L259.03,833.86 L256.84,833.80 L254.65,833.74 L252.45,833.68 L250.26,833.62 L248.07,833.57 L245.87,833.53 L243.68,833.49 L241.49,833.45 L239.29,833.42 L237.10,833.39 L234.91,833.36 L232.71,833.34 L230.52,833.33 L228.33,833.32 L226.13,833.31 L223.94,833.31 L221.75,833.31 L219.55,833.32 L217.36,833.34 L215.16,833.35 L212.97,833.38 L210.78,833.41 L208.58,833.44 L206.39,833.48 L204.20,833.52 L202.00,833.57 L199.81,833.62 L197.62,833.68 L195.42,833.74 L193.23,833.81 L191.04,833.89 L188.84,833.96 L186.65,834.04 L184.46,834.13 L182.26,834.22 L180.07,834.32 L177.88,834.42 L175.68,834.52 L173.49,834.63 L171.29,834.74 L169.10,834.85 L166.91,834.97 L164.71,835.10 L162.52,835.22 L160.33,835.35 L158.13,835.49 L155.94,835.62 L153.75,835.76 L151.55,835.91 L149.36,836.05 L147.17,836.20 L144.97,836.35 L142.78,836.51 L140.59,836.66 L138.39,836.82 L136.20,836.99 L134.00,837.15 L131.81,837.32 L129.62,837.48 L127.42,837.66 L125.23,837.83 L123.04,838.00 L120.84,838.18 L118.65,838.36 L116.46,838.54 L114.26,838.72 L112.07,838.90 L109.88,839.09 L107.68,839.28 L105.49,839.46 L103.30,839.65 L101.10,839.84 L98.91,840.04 L96.72,840.23 L94.52,840.43 L92.33,840.62 L90.14,840.82 L87.94,841.02 L85.75,841.22 L83.55,841.42 L81.36,841.62 L79.17,841.82 L76.97,842.02 L74.78,842.23 L72.59,842.43 L70.39,842.64 L68.20,842.85 L66.01,843.05 L63.81,843.26 Z"/>
<polyline fill="none" stroke="#000" stroke-width="1.45" stroke-dasharray="1.45 1.15" points="63.81,811.10 68.20,814.21 72.59,864.01 76.97,865.05 81.36,799.69 85.75,846.38 90.14,837.56 94.52,832.89 98.91,840.67 103.30,826.66 107.68,817.33 112.07,794.50 116.46,875.94 120.84,794.50 125.23,800.73 129.62,811.10 134.00,832.89 138.39,806.95 142.78,836.00 147.17,826.66 151.55,797.61 155.94,817.33 160.33,820.44 164.71,836.00 169.10,815.25 173.49,776.86 177.88,775.31 182.26,841.19 186.65,811.10 191.04,829.77 195.42,823.55 199.81,783.09 204.20,826.66 208.58,842.23 212.97,831.33 217.36,822.51 221.75,817.33 226.13,840.15 230.52,842.23 234.91,828.74 239.29,850.52 243.68,846.38 248.07,852.60 252.45,833.92 256.84,824.59 261.23,828.22 265.62,856.75 270.00,842.23 274.39,843.26 278.78,829.77 283.16,816.81 287.55,830.81 291.94,839.11 296.32,837.56 300.71,840.67 305.10,831.85 309.48,803.84 313.87,843.78 318.26,832.89 322.65,842.23 327.03,805.91 331.42,829.77 335.81,819.40 340.19,829.77 344.58,822.51 348.97,814.21 353.35,829.77 357.74,845.34"/>
<polyline fill="none" stroke="#000" stroke-width="1.4" stroke-linejoin="miter" stroke-miterlimit="3" points="63.81,829.77 68.20,768.56 72.59,889.95 76.97,817.33 81.36,856.75 85.75,810.06 90.14,861.94 94.52,775.83 98.91,737.96 103.30,882.69 107.68,864.01 112.07,760.26 116.46,819.40 120.84,790.35 125.23,790.35 129.62,794.50 134.00,868.16 138.39,771.67 142.78,813.17 147.17,871.27 151.55,840.67 155.94,847.41 160.33,826.66 164.71,801.76 169.10,826.66 173.49,817.33 177.88,808.51 182.26,799.69 186.65,842.23 191.04,849.49 195.42,864.01 199.81,848.45 204.20,829.77 208.58,793.46 212.97,819.40 217.36,823.55 221.75,839.11 226.13,774.37 230.52,850.52 234.91,838.08 239.29,897.21 243.68,855.19 248.07,844.30 252.45,919.00 256.84,756.42 261.23,838.08 265.62,919.00 270.00,851.56 274.39,797.61 278.78,854.67 283.16,792.42 287.55,832.89 291.94,871.27 296.32,890.47 300.71,832.89 305.10,791.39 309.48,758.19 313.87,777.90 318.26,884.76 322.65,832.89 327.03,781.01 331.42,754.04 335.81,832.89 340.19,773.75 344.58,826.66 348.97,879.58 353.35,761.30 357.74,761.30"/>
<line x1="63.81" y1="826.14" x2="357.74" y2="829.26" stroke="#000" stroke-width="1.9" stroke-dasharray="2.0 1.95"/>
<line x1="63.81" y1="826.66" x2="357.74" y2="822.51" stroke="#000" stroke-width="1.9"/>
</g>
<rect x="55.40" y="618.30" width="310.90" height="290.20" fill="none" stroke="#333" stroke-width="1.4" stroke-linejoin="round"/>
<path d="M55.40,887.88h3.5M366.30,887.88h-3.5M55.40,836.00h3.5M366.30,836.00h-3.5M55.40,784.12h3.5M366.30,784.12h-3.5M55.40,732.25h3.5M366.30,732.25h-3.5M55.40,680.38h3.5M366.30,680.38h-3.5M55.40,628.50h3.5M366.30,628.50h-3.5M68.20,618.30v2.7M68.20,908.50v-2.7M112.07,618.30v2.7M112.07,908.50v-2.7M155.94,618.30v2.7M155.94,908.50v-2.7M199.81,618.30v2.7M199.81,908.50v-2.7M243.68,618.30v2.7M243.68,908.50v-2.7M287.55,618.30v2.7M287.55,908.50v-2.7M331.42,618.30v2.7M331.42,908.50v-2.7" stroke="#333" stroke-width="1.3" fill="none"/>
<text transform="translate(64.60,646.90) scale(1.08,1)" font-family='"Liberation Sans", sans-serif' font-weight="bold" font-size="17.2" fill="#1a1a1a" stroke="#1a1a1a" stroke-width="0.35">e</text>
<text x="354.20" y="645.20" textLength="209.4" text-anchor="end" font-family='"Liberation Sans", sans-serif' font-size="15" fill="#333">Southern Hemisphere (&lt;100° E)</text>
<g clip-path="url(#clipf)">
<path fill="#cacaca" d="M381.01,773.75 L383.20,774.26 L385.40,774.76 L387.60,775.27 L389.79,775.77 L391.99,776.27 L394.19,776.78 L396.38,777.28 L398.58,777.78 L400.78,778.28 L402.97,778.78 L405.17,779.27 L407.36,779.77 L409.56,780.27 L411.76,780.76 L413.95,781.25 L416.15,781.75 L418.35,782.24 L420.54,782.72 L422.74,783.21 L424.94,783.70 L427.13,784.18 L429.33,784.67 L431.53,785.15 L433.72,785.63 L435.92,786.11 L438.12,786.58 L440.31,787.06 L442.51,787.53 L444.71,788.00 L446.90,788.47 L449.10,788.94 L451.29,789.40 L453.49,789.86 L455.69,790.32 L457.88,790.78 L460.08,791.24 L462.28,791.69 L464.47,792.14 L466.67,792.59 L468.87,793.03 L471.06,793.47 L473.26,793.91 L475.46,794.34 L477.65,794.77 L479.85,795.20 L482.05,795.63 L484.24,796.05 L486.44,796.47 L488.64,796.88 L490.83,797.29 L493.03,797.70 L495.22,798.10 L497.42,798.49 L499.62,798.89 L501.81,799.28 L504.01,799.66 L506.21,800.04 L508.40,800.42 L510.60,800.79 L512.80,801.15 L514.99,801.51 L517.19,801.87 L519.39,802.22 L521.58,802.57 L523.78,802.91 L525.98,803.25 L528.17,803.58 L530.37,803.90 L532.57,804.23 L534.76,804.54 L536.96,804.85 L539.15,805.16 L541.35,805.46 L543.55,805.76 L545.74,806.05 L547.94,806.34 L550.14,806.62 L552.33,806.90 L554.53,807.17 L556.73,807.44 L558.92,807.71 L561.12,807.97 L563.32,808.23 L565.51,808.48 L567.71,808.73 L569.91,808.97 L572.10,809.21 L574.30,809.45 L576.50,809.68 L578.69,809.91 L580.89,810.14 L583.09,810.36 L585.28,810.58 L587.48,810.80 L589.67,811.01 L591.87,811.22 L594.07,811.43 L596.26,811.64 L598.46,811.84 L600.66,812.04 L602.85,812.24 L605.05,812.44 L607.25,812.63 L609.44,812.82 L611.64,813.01 L613.84,813.20 L616.03,813.38 L618.23,813.57 L620.43,813.75 L622.62,813.93 L624.82,814.11 L627.01,814.28 L629.21,814.46 L631.41,814.63 L633.60,814.80 L635.80,814.97 L638.00,815.14 L640.19,815.31 L642.39,815.48 L644.59,815.64 L646.78,815.80 L648.98,815.97 L651.18,816.13 L653.37,816.29 L655.57,816.45 L657.77,816.61 L659.96,816.77 L662.16,816.92 L664.36,817.08 L666.55,817.23 L668.75,817.39 L670.94,817.54 L673.14,817.69 L675.34,817.84 L675.34,851.04 L673.14,850.54 L670.94,850.03 L668.75,849.53 L666.55,849.02 L664.36,848.52 L662.16,848.02 L659.96,847.52 L657.77,847.01 L655.57,846.52 L653.37,846.02 L651.18,845.52 L648.98,845.02 L646.78,844.53 L644.59,844.03 L642.39,843.54 L640.19,843.05 L638.00,842.56 L635.80,842.07 L633.60,841.58 L631.41,841.10 L629.21,840.61 L627.01,840.13 L624.82,839.65 L622.62,839.17 L620.43,838.69 L618.23,838.21 L616.03,837.74 L613.84,837.26 L611.64,836.79 L609.44,836.32 L607.25,835.86 L605.05,835.39 L602.85,834.93 L600.66,834.47 L598.46,834.01 L596.26,833.56 L594.07,833.10 L591.87,832.66 L589.67,832.21 L587.48,831.76 L585.28,831.32 L583.09,830.89 L580.89,830.45 L578.69,830.02 L576.50,829.59 L574.30,829.17 L572.10,828.75 L569.91,828.33 L567.71,827.91 L565.51,827.50 L563.32,827.10 L561.12,826.70 L558.92,826.30 L556.73,825.91 L554.53,825.52 L552.33,825.13 L550.14,824.75 L547.94,824.38 L545.74,824.01 L543.55,823.64 L541.35,823.28 L539.15,822.92 L536.96,822.57 L534.76,822.23 L532.57,821.88 L530.37,821.55 L528.17,821.22 L525.98,820.89 L523.78,820.57 L521.58,820.25 L519.39,819.94 L517.19,819.63 L514.99,819.33 L512.80,819.03 L510.60,818.74 L508.40,818.45 L506.21,818.17 L504.01,817.89 L501.81,817.62 L499.62,817.35 L497.42,817.09 L495.22,816.82 L493.03,816.57 L490.83,816.32 L488.64,816.07 L486.44,815.82 L484.24,815.58 L482.05,815.35 L479.85,815.11 L477.65,814.88 L475.46,814.66 L473.26,814.43 L471.06,814.21 L468.87,814.00 L466.67,813.78 L464.47,813.57 L462.28,813.36 L460.08,813.16 L457.88,812.95 L455.69,812.75 L453.49,812.55 L451.29,812.36 L449.10,812.16 L446.90,811.97 L444.71,811.78 L442.51,811.60 L440.31,811.41 L438.12,811.23 L435.92,811.05 L433.72,810.87 L431.53,810.69 L429.33,810.51 L427.13,810.34 L424.94,810.16 L422.74,809.99 L420.54,809.82 L418.35,809.65 L416.15,809.48 L413.95,809.32 L411.76,809.15 L409.56,808.99 L407.36,808.83 L405.17,808.66 L402.97,808.50 L400.78,808.34 L398.58,808.19 L396.38,808.03 L394.19,807.87 L391.99,807.72 L389.79,807.56 L387.60,807.41 L385.40,807.25 L383.20,807.10 L381.01,806.95 Z"/>
<polyline fill="none" stroke="#000" stroke-width="1.45" stroke-dasharray="1.45 1.15" points="381.01,799.69 385.40,814.73 389.79,832.89 394.19,803.84 398.58,820.44 402.97,794.50 407.36,817.33 411.76,799.69 416.15,843.78 420.54,839.11 424.94,785.16 429.33,842.23 433.72,829.77 438.12,834.44 442.51,801.76 446.90,837.56 451.29,839.11 455.69,846.89 460.08,817.33 464.47,820.44 468.87,829.77 473.26,837.56 477.65,832.89 482.05,814.21 486.44,803.84 490.83,825.62 495.22,816.29 499.62,788.27 504.01,839.11 508.40,805.39 512.80,823.55 517.19,799.69 521.58,826.66 525.98,845.34 530.37,865.05 534.76,839.11 539.15,819.40 543.55,804.88 547.94,849.49 552.33,832.89 556.73,829.77 561.12,819.40 565.51,854.67 569.91,839.11 574.30,840.67 578.69,851.56 583.09,861.94 587.48,854.67 591.87,848.45 596.26,860.90 600.66,823.55 605.05,824.59 609.44,826.66 613.84,823.55 618.23,832.89 622.62,860.90 627.01,858.83 631.41,846.89 635.80,855.71 640.19,855.71 644.59,832.89 648.98,845.34 653.37,808.51 657.77,832.89 662.16,814.21 666.55,814.21 670.94,855.71 675.34,842.23"/>
<polyline fill="none" stroke="#000" stroke-width="1.4" stroke-linejoin="miter" stroke-miterlimit="3" points="381.01,797.61 385.40,820.44 389.79,845.86 394.19,741.07 398.58,777.90 402.97,773.23 407.36,777.90 411.76,790.35 416.15,784.12 420.54,783.09 424.94,820.44 429.33,684.52 433.72,713.58 438.12,896.17 442.51,832.89 446.90,823.55 451.29,823.55 455.69,817.33 460.08,705.79 464.47,832.89 468.87,842.23 473.26,871.27 477.65,773.75 482.05,839.11 486.44,792.42 490.83,832.89 495.22,837.04 499.62,761.82 504.01,832.89 508.40,786.20 512.80,797.61 517.19,775.83 521.58,802.28 525.98,788.27 530.37,788.27 534.76,814.73 539.15,866.61 543.55,906.03 547.94,851.56 552.33,795.54 556.73,777.90 561.12,784.12 565.51,786.20 569.91,864.01 574.30,861.94 578.69,802.28 583.09,769.60 587.48,777.90 591.87,857.79 596.26,880.61 600.66,769.60 605.05,814.21 609.44,829.26 613.84,810.06 618.23,817.33 622.62,857.79 627.01,837.56 631.41,846.89 635.80,846.89 640.19,875.94 644.59,817.33 648.98,855.19 653.37,845.34 657.77,811.10 662.16,820.44 666.55,859.86 670.94,802.28 675.34,755.59"/>
<line x1="381.01" y1="817.33" x2="675.34" y2="846.89" stroke="#000" stroke-width="1.9" stroke-dasharray="2.0 1.95"/>
<line x1="381.01" y1="790.35" x2="675.34" y2="834.44" stroke="#000" stroke-width="1.9"/>
</g>
<rect x="372.30" y="618.30" width="311.60" height="290.20" fill="none" stroke="#333" stroke-width="1.4" stroke-linejoin="round"/>
<path d="M372.30,887.88h3.5M683.90,887.88h-3.5M372.30,836.00h3.5M683.90,836.00h-3.5M372.30,784.12h3.5M683.90,784.12h-3.5M372.30,732.25h3.5M683.90,732.25h-3.5M372.30,680.38h3.5M683.90,680.38h-3.5M372.30,628.50h3.5M683.90,628.50h-3.5M385.40,618.30v2.7M385.40,908.50v-2.7M429.33,618.30v2.7M429.33,908.50v-2.7M473.26,618.30v2.7M473.26,908.50v-2.7M517.19,618.30v2.7M517.19,908.50v-2.7M561.12,618.30v2.7M561.12,908.50v-2.7M605.05,618.30v2.7M605.05,908.50v-2.7M648.98,618.30v2.7M648.98,908.50v-2.7" stroke="#333" stroke-width="1.3" fill="none"/>
<text transform="translate(382.60,646.50) scale(1.08,1)" font-family='"Liberation Sans", sans-serif' font-weight="bold" font-size="17.2" fill="#1a1a1a" stroke="#1a1a1a" stroke-width="0.35">f</text>
<text x="677.30" y="645.40" textLength="209.4" text-anchor="end" font-family='"Liberation Sans", sans-serif' font-size="15" fill="#333">Southern Hemisphere (&gt;100° E)</text>
<text x="49.8" y="292.90" text-anchor="end" font-family='"Liberation Sans", sans-serif' font-size="14" fill="#333">15</text>
<text x="49.8" y="242.45" text-anchor="end" font-family='"Liberation Sans", sans-serif' font-size="14" fill="#333">20</text>
<text x="49.8" y="192.00" text-anchor="end" font-family='"Liberation Sans", sans-serif' font-size="14" fill="#333">25</text>
<text x="49.8" y="141.55" text-anchor="end" font-family='"Liberation Sans", sans-serif' font-size="14" fill="#333">30</text>
<text x="49.8" y="91.10" text-anchor="end" font-family='"Liberation Sans", sans-serif' font-size="14" fill="#333">35</text>
<text x="49.8" y="40.65" text-anchor="end" font-family='"Liberation Sans", sans-serif' font-size="14" fill="#333">40</text>
<text x="49.8" y="613.30" text-anchor="end" font-family='"Liberation Sans", sans-serif' font-size="14" fill="#333">5</text>
<text x="49.8" y="586.18" text-anchor="end" font-family='"Liberation Sans", sans-serif' font-size="14" fill="#333">10</text>
<text x="49.8" y="559.06" text-anchor="end" font-family='"Liberation Sans", sans-serif' font-size="14" fill="#333">15</text>
<text x="49.8" y="531.94" text-anchor="end" font-family='"Liberation Sans", sans-serif' font-size="14" fill="#333">20</text>
<text x="49.8" y="504.82" text-anchor="end" font-family='"Liberation Sans", sans-serif' font-size="14" fill="#333">25</text>
<text x="49.8" y="477.70" text-anchor="end" font-family='"Liberation Sans", sans-serif' font-size="14" fill="#333">30</text>
<text x="49.8" y="450.58" text-anchor="end" font-family='"Liberation Sans", sans-serif' font-size="14" fill="#333">35</text>
<text x="49.8" y="423.46" text-anchor="end" font-family='"Liberation Sans", sans-serif' font-size="14" fill="#333">40</text>
<text x="49.8" y="396.34" text-anchor="end" font-family='"Liberation Sans", sans-serif' font-size="14" fill="#333">45</text>
<text x="49.8" y="369.22" text-anchor="end" font-family='"Liberation Sans", sans-serif' font-size="14" fill="#333">50</text>
<text x="49.8" y="342.10" text-anchor="end" font-family='"Liberation Sans", sans-serif' font-size="14" fill="#333">55</text>
<text x="49.8" y="892.60" text-anchor="end" font-family='"Liberation Sans", sans-serif' font-size="14" fill="#333">10</text>
<text x="49.8" y="840.36" text-anchor="end" font-family='"Liberation Sans", sans-serif' font-size="14" fill="#333">15</text>
<text x="49.8" y="788.12" text-anchor="end" font-family='"Liberation Sans", sans-serif' font-size="14" fill="#333">20</text>
<text x="49.8" y="735.88" text-anchor="end" font-family='"Liberation Sans", sans-serif' font-size="14" fill="#333">25</text>
<text x="49.8" y="683.64" text-anchor="end" font-family='"Liberation Sans", sans-serif' font-size="14" fill="#333">30</text>
<text x="49.8" y="631.40" text-anchor="end" font-family='"Liberation Sans", sans-serif' font-size="14" fill="#333">35</text>
<text transform="translate(67.70,925.4) scale(1.05,1)" text-anchor="middle" font-family='"Liberation Sans", sans-serif' font-size="14" fill="#333">1950</text>
<text transform="translate(111.87,925.4) scale(1.05,1)" text-anchor="middle" font-family='"Liberation Sans", sans-serif' font-size="14" fill="#333">1960</text>
<text transform="translate(156.04,925.4) scale(1.05,1)" text-anchor="middle" font-family='"Liberation Sans", sans-serif' font-size="14" fill="#333">1970</text>
<text transform="translate(200.21,925.4) scale(1.05,1)" text-anchor="middle" font-family='"Liberation Sans", sans-serif' font-size="14" fill="#333">1980</text>
<text transform="translate(244.38,925.4) scale(1.05,1)" text-anchor="middle" font-family='"Liberation Sans", sans-serif' font-size="14" fill="#333">1990</text>
<text transform="translate(288.55,925.4) scale(1.05,1)" text-anchor="middle" font-family='"Liberation Sans", sans-serif' font-size="14" fill="#333">2000</text>
<text transform="translate(332.72,925.4) scale(1.05,1)" text-anchor="middle" font-family='"Liberation Sans", sans-serif' font-size="14" fill="#333">2010</text>
<text x="210.05" y="944.1" text-anchor="middle" font-family='"Liberation Sans", sans-serif' font-size="14.3" fill="#333">Year</text>
<text transform="translate(384.60,925.4) scale(1.05,1)" text-anchor="middle" font-family='"Liberation Sans", sans-serif' font-size="14" fill="#333">1950</text>
<text transform="translate(428.83,925.4) scale(1.05,1)" text-anchor="middle" font-family='"Liberation Sans", sans-serif' font-size="14" fill="#333">1960</text>
<text transform="translate(473.06,925.4) scale(1.05,1)" text-anchor="middle" font-family='"Liberation Sans", sans-serif' font-size="14" fill="#333">1970</text>
<text transform="translate(517.29,925.4) scale(1.05,1)" text-anchor="middle" font-family='"Liberation Sans", sans-serif' font-size="14" fill="#333">1980</text>
<text transform="translate(561.52,925.4) scale(1.05,1)" text-anchor="middle" font-family='"Liberation Sans", sans-serif' font-size="14" fill="#333">1990</text>
<text transform="translate(605.75,925.4) scale(1.05,1)" text-anchor="middle" font-family='"Liberation Sans", sans-serif' font-size="14" fill="#333">2000</text>
<text transform="translate(649.98,925.4) scale(1.05,1)" text-anchor="middle" font-family='"Liberation Sans", sans-serif' font-size="14" fill="#333">2010</text>
<text x="527.30" y="944.1" text-anchor="middle" font-family='"Liberation Sans", sans-serif' font-size="14.3" fill="#333">Year</text>
<text transform="translate(14.1,162.50) rotate(-90)" text-anchor="middle" font-family='"Liberation Sans", sans-serif' font-size="16.35" fill="#333">Translation speed (km h<tspan font-size="11" dy="-5">−1</tspan><tspan dy="5">)</tspan></text>
<text transform="translate(14.1,452.30) rotate(-90)" text-anchor="middle" font-family='"Liberation Sans", sans-serif' font-size="16.35" fill="#333">Translation speed (km h<tspan font-size="11" dy="-5">−1</tspan><tspan dy="5">)</tspan></text>
<text transform="translate(14.1,752.90) rotate(-90)" text-anchor="middle" font-family='"Liberation Sans", sans-serif' font-size="16.35" fill="#333">Translation speed (km h<tspan font-size="11" dy="-5">−1</tspan><tspan dy="5">)</tspan></text>
<line x1="60.7" y1="5.8" x2="106.1" y2="5.8" stroke="#333" stroke-width="1.4"/>
<text x="116.6" y="10.6" textLength="64.0" font-family='"Liberation Sans", sans-serif' font-size="15" fill="#333">Over land</text>
<line x1="212" y1="5.9" x2="256.5" y2="5.9" stroke="#333" stroke-width="1.5" stroke-dasharray="1.4 1.45"/>
<text x="268.6" y="10.6" textLength="71.0" font-family='"Liberation Sans", sans-serif' font-size="15" fill="#333">Over water</text>
</svg>
</body></html>
